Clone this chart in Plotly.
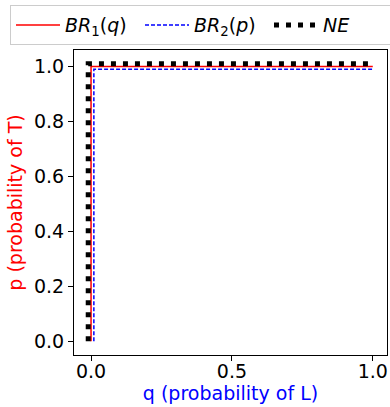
import plotly.graph_objects as go

# Best responses and Nash equilibrium (q = prob of L, p = prob of T)
br1_q = [0.0, 0.0, 1.0]
br1_p = [0.0, 1.0, 1.0]
br2_q = [0.01, 0.01, 1.0]
br2_p = [0.0, 0.99, 0.99]
ne_q = [-0.01, -0.01, 1.0]
ne_p = [0.0, 1.01, 1.01]

x_ticks = [0.0, 0.5, 1.0]
y_ticks = [0.0, 0.2, 0.4, 0.6, 0.8, 1.0]

FONT = "DejaVu Sans"

fig = go.Figure()
fig.add_trace(go.Scatter(x=br1_q, y=br1_p, mode="lines",
                         line=dict(color="red", width=1.5),
                         name="<i>BR</i><sub>1</sub>(<i>q</i>)"))
fig.add_trace(go.Scatter(x=br2_q, y=br2_p, mode="lines",
                         line=dict(color="blue", width=1.5, dash="4px,2px"),
                         name="<i>BR</i><sub>2</sub>(<i>p</i>)"))
fig.add_trace(go.Scatter(x=ne_q, y=ne_p, mode="lines",
                         line=dict(color="black", width=5, dash="5px,7px"),
                         name="<i>NE</i>"))

axis_common = dict(showline=True, mirror=True, linecolor="black", linewidth=1,
                   ticks="outside", ticklen=5, tickcolor="black",
                   showgrid=False, zeroline=False,
                   tickfont=dict(family=FONT, size=19, color="black"))

fig.update_xaxes(range=[-0.0605, 1.0505], tickvals=x_ticks,
                 ticktext=[f"{v:.1f}" for v in x_ticks],
                 ticklabelstandoff=-6,
                 title=dict(text="q (probability of L)",
                            font=dict(family=FONT, size=19, color="blue"),
                            standoff=2),
                 **axis_common)
fig.update_yaxes(range=[-0.0505, 1.0605], tickvals=y_ticks,
                 ticktext=[f"{v:.1f}" for v in y_ticks],
                 title=dict(text="p (probability of T)",
                            font=dict(family=FONT, size=19, color="red"),
                            standoff=6),
                 **axis_common)

fig.update_layout(
    width=390, height=407,
    margin=dict(l=74, r=3, t=50, b=52, autoexpand=False),
    plot_bgcolor="white", paper_bgcolor="white",
    font=dict(family=FONT, size=19, color="black"),
    legend=dict(orientation="h",
                x=(10 - 74) / 313, xanchor="left", y=1.016, yanchor="bottom",
                bordercolor="#cccccc", borderwidth=1, bgcolor="white",
                font=dict(family=FONT, size=19), itemwidth=44,
                entrywidth=70, entrywidthmode="pixels",
                tracegroupgap=0),
    showlegend=True,
)

fig.write_html("out.html", post_script="document.body.style.margin='0';",
               config={"displayModeBar": False})
